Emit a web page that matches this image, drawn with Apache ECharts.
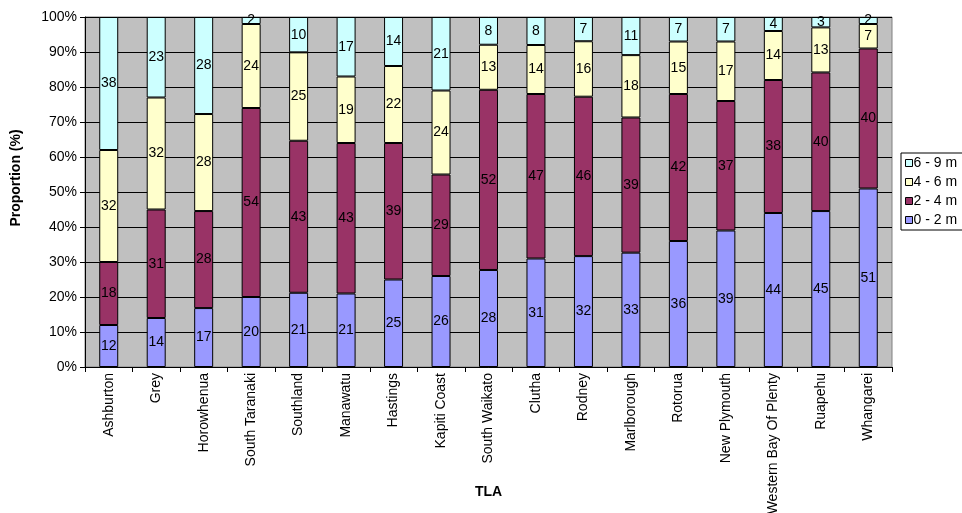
<!DOCTYPE html>
<html>
<head>
<meta charset="utf-8">
<script src="https://cdn.jsdelivr.net/npm/echarts@6/dist/echarts.min.js"></script>
<style>
  html, body { margin: 0; padding: 0; background: #fff; }
  #chart { width: 962px; height: 513px; }
</style>
</head>
<body>
<div id="chart"></div>
<script>
// Territorial local authorities
const categories = ['Ashburton', 'Grey', 'Horowhenua', 'South Taranaki', 'Southland', 'Manawatu',
  'Hastings', 'Kapiti Coast', 'South Waikato', 'Clutha', 'Rodney', 'Marlborough', 'Rotorua',
  'New Plymouth', 'Western Bay Of Plenty', 'Ruapehu', 'Whangarei'];

// Percentage share of each height class
const band0to2 = [12, 14, 17, 20, 21, 21, 25, 26, 28, 31, 32, 33, 36, 39, 44, 45, 51];
const band2to4 = [18, 31, 28, 54, 43, 43, 39, 29, 52, 47, 46, 39, 42, 37, 38, 40, 40];
const band4to6 = [32, 32, 28, 24, 25, 19, 22, 24, 13, 14, 16, 18, 15, 17, 14, 13, 7];
const band6to9 = [38, 23, 28, 2, 10, 17, 14, 21, 8, 8, 7, 11, 7, 7, 4, 3, 2];

const seriesNames = ['0 - 2 m', '2 - 4 m', '4 - 6 m', '6 - 9 m'];
const yTickLabels = ['0%', '10%', '20%', '30%', '40%', '50%', '60%', '70%', '80%', '90%', '100%'];

const bands = [band0to2, band2to4, band4to6, band6to9];
const colors = ['#9999FF', '#993366', '#FFFFCC', '#CCFFFF'];
const FONT = 'Liberation Sans, Arial, sans-serif';

// Each column is scaled so the four classes fill 100%
const totals = categories.map((_, i) => bands.reduce((s, b) => s + b[i], 0));

const series = bands.map((band, k) => ({
  name: seriesNames[k],
  type: 'bar',
  stack: 'share',
  barWidth: '40%',
  data: band.map((v, i) => ({ value: v / totals[i] * 100, raw: v })),
  itemStyle: { color: colors[k], borderColor: '#000', borderWidth: 1 },
  label: {
    show: true,
    position: 'inside',
    color: '#000',
    fontFamily: FONT,
    fontSize: 14,
    textBorderWidth: 0,
    formatter: p => String(p.data.raw)
  },
  emphasis: { disabled: true }
}));

const chart = echarts.init(document.getElementById('chart'), null, { renderer: 'canvas' });
chart.setOption({
  animation: false,
  textStyle: { fontFamily: FONT },
  grid: {
    left: 85, right: 70, top: 17, bottom: 146,
    containLabel: false,
    outerBoundsMode: 'none',
    show: true, backgroundColor: '#C0C0C0', borderColor: '#808080', borderWidth: 1
  },
  legend: {
    data: seriesNames.slice().reverse(),
    orient: 'vertical',
    left: 901, top: 153,
    padding: [3, 6, 3, 4],
    itemGap: 5,
    itemWidth: 7, itemHeight: 7,
    icon: 'rect',
    borderColor: '#000', borderWidth: 1,
    itemStyle: { borderColor: '#000', borderWidth: 1 },
    textStyle: { fontFamily: FONT, fontSize: 14, color: '#000', padding: [0, 0, 0, -4] }
  },
  xAxis: {
    type: 'category',
    data: categories,
    name: 'TLA',
    nameLocation: 'middle',
    nameGap: 118,
    nameMoveOverlap: false,
    nameTextStyle: { fontFamily: FONT, fontSize: 14, fontWeight: 'bold', color: '#000' },
    axisLine: { lineStyle: { color: '#000', width: 1 } },
    axisTick: { show: true, alignWithLabel: false, length: 5, lineStyle: { color: '#000' } },
    axisLabel: { rotate: 90, interval: 0, fontSize: 14, color: '#000', fontFamily: FONT, margin: 6 },
    splitLine: { show: false }
  },
  yAxis: {
    type: 'value',
    min: 0, max: 100, interval: 10,
    name: 'Proportion (%)',
    nameLocation: 'middle',
    nameGap: 62,
    nameMoveOverlap: false,
    nameTextStyle: {
      fontFamily: FONT, fontSize: 14, fontWeight: 'bold', color: '#000',
      padding: [0, 0, 0, 28]
    },
    axisLine: { show: true, lineStyle: { color: '#000', width: 1 } },
    axisTick: { show: true, length: 5, lineStyle: { color: '#000' } },
    axisLabel: {
      fontSize: 14, color: '#000', fontFamily: FONT, margin: 8,
      formatter: v => yTickLabels[Math.round(v / 10)]
    },
    splitLine: { show: true, lineStyle: { color: '#000', width: 1 } }
  },
  series: series
});
</script>
</body>
</html>
